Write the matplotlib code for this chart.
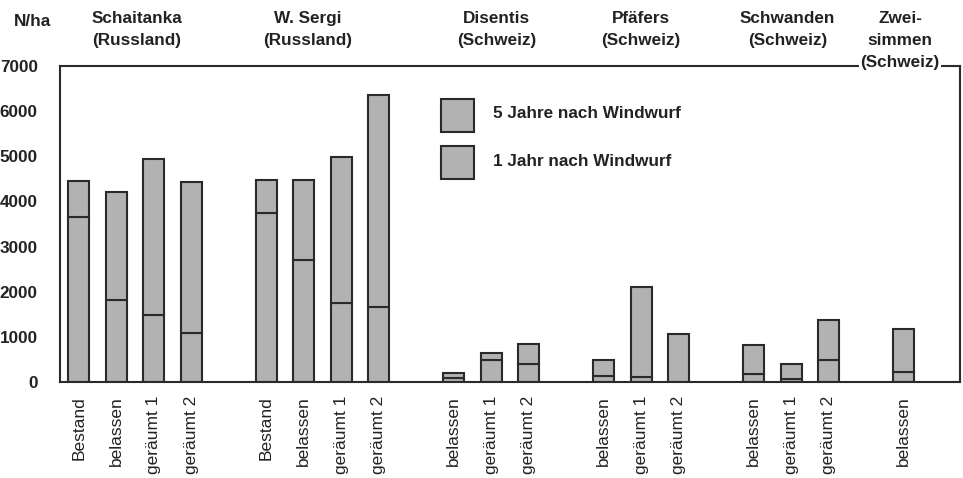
import matplotlib
matplotlib.use("Agg")
import matplotlib.pyplot as plt
from matplotlib.patches import Rectangle

plt.rcParams["font.family"] = ["Liberation Sans", "DejaVu Sans"]

# bar slots (gaps between sites)
positions = [0, 1, 2, 3, 5, 6, 7, 8, 10, 11, 12, 14, 15, 16, 18, 19, 20, 22]
tick_labels = [
    "Bestand", "belassen", "geräumt 1", "geräumt 2",
    "Bestand", "belassen", "geräumt 1", "geräumt 2",
    "belassen", "geräumt 1", "geräumt 2",
    "belassen", "geräumt 1", "geräumt 2",
    "belassen", "geräumt 1", "geräumt 2",
    "belassen",
]
# N/ha, 5 years and 1 year after windthrow
five_years = [4450, 4200, 4930, 4440, 4480, 4470, 4980, 6360,
              210, 635, 840, 490, 2110, 1055, 830, 390, 1370, 1165]
one_year = [3660, 1810, 1480, 1090, 3750, 2700, 1740, 1670,
            95, 487, 400, 140, 110, 10, 185, 65, 480, 230]

sites = ["Schaitanka\n(Russland)", "W. Sergi\n(Russland)", "Disentis\n(Schweiz)",
         "Pfäfers\n(Schweiz)", "Schwanden\n(Schweiz)", "Zwei-\nsimmen\n(Schweiz)"]
site_x = [1.55, 6.1, 11.15, 15.0, 18.9, 21.9]
legend_labels = ["5 Jahre nach Windwurf", "1 Jahr nach Windwurf"]

fill = "#b2b2b2"
edge = "#2a2a2a"
W, H = 963, 478
bold_size = 12.3

fig = plt.figure(figsize=(9.63, 4.78), dpi=100)
ax = fig.add_axes([60 / W, 96 / H, 900 / W, 316 / H])

increment = [f - o for f, o in zip(five_years, one_year)]
ax.bar(positions, one_year, width=0.57, color=fill, edgecolor=edge, linewidth=1.5)
ax.bar(positions, increment, bottom=one_year, width=0.57, color=fill,
       edgecolor=edge, linewidth=1.5)

ax.set_xlim(-0.5, 23.5)
ax.set_ylim(0, 7000)
ax.set_yticks(range(0, 7001, 1000))
ax.set_yticklabels([str(v) for v in range(0, 7001, 1000)], fontsize=bold_size,
                   fontweight="bold", color="#222222")
ax.set_xticks(positions)
ax.set_xticklabels(tick_labels, rotation=90, fontsize=12.5, va="top",
                   color="#222222")
ax.tick_params(axis="both", length=0)
ax.tick_params(axis="x", pad=10)
ax.tick_params(axis="y", pad=16)
for spine in ax.spines.values():
    spine.set_linewidth(1.5)
    spine.set_color(edge)

# legend drawn by hand: large square swatches
for i, label in enumerate(legend_labels):
    top = 99 + i * 47
    fig.patches.append(Rectangle((441 / W, 1 - (top + 33) / H), 33 / W, 33 / H,
                                 transform=fig.transFigure, facecolor=fill,
                                 edgecolor=edge, linewidth=1.5))
    fig.text(493 / W, 1 - (top + 15) / H, label, fontsize=bold_size, fontweight="bold",
             va="center", ha="left", color="#222222")

fig.text(14 / W, 1 - 21 / H, "N/ha", fontsize=bold_size, fontweight="bold",
         va="center", ha="left", color="#222222")
for name, x in zip(sites, site_x):
    disp = ax.transData.transform((x, 0))[0] / fig.dpi / fig.get_figwidth()
    fig.text(disp, 1 - 11 / H, name, fontsize=bold_size, fontweight="bold",
             va="top", ha="center", linespacing=1.6, color="#222222",
             bbox=dict(facecolor="white", edgecolor="none", pad=1))

fig.savefig("out.png", dpi=100)
